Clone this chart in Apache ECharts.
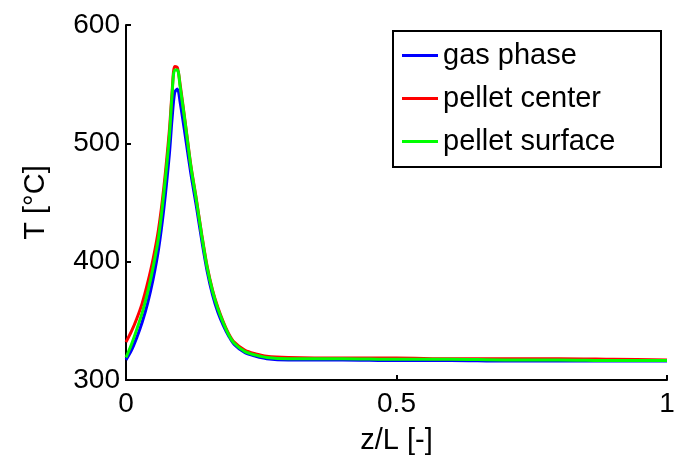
<!DOCTYPE html>
<html>
<head>
<meta charset="utf-8">
<script src="https://cdn.jsdelivr.net/npm/echarts@6/dist/echarts.min.js"></script>
<style>
  html, body { margin: 0; padding: 0; background: #fff; }
  #chart { width: 679px; height: 461px; }
</style>
</head>
<body>
<div id="chart"></div>
<script>
// axial position z/L
const zPos = [0, 0.01, 0.02, 0.03, 0.04, 0.05, 0.06, 0.07, 0.08, 0.085, 0.09, 0.095, 0.1,
  0.11, 0.12, 0.13, 0.14, 0.15, 0.16, 0.17, 0.18, 0.19, 0.2, 0.22, 0.24, 0.26, 0.3,
  0.4, 0.5, 0.6, 0.7, 0.8, 0.9, 1.0]
// temperatures in °C
const gasPhase = [317, 325, 336, 349, 365, 385, 410, 445, 490, 520, 543, 546, 535,
  505, 474, 447, 418, 392, 372, 357, 346, 337, 330, 323, 320, 318, 317,
  317, 316.5, 316.5, 316, 316, 316, 316]
const pelletCenter = [332, 341, 352, 365, 382, 402, 427, 463, 510, 542, 565, 564, 550,
  516, 481, 453, 423, 396, 376, 361, 349, 339, 332, 325, 322, 320, 319,
  318.5, 318.5, 318, 318, 318, 317.5, 317]
const pelletSurface = [319, 330, 343, 357, 374, 395, 420, 458, 505, 540, 562, 562, 548,
  515, 480, 452, 422, 395, 375, 360, 348, 338, 331, 324, 321, 319, 318,
  318, 317.5, 317.5, 317, 317, 316.5, 316.5]
const seriesNames = ['gas phase', 'pellet center', 'pellet surface']
const seriesColors = ['#0000ff', '#ff0000', '#00ff00']

const font = 'Liberation Sans, Arial, sans-serif'
const chart = echarts.init(document.getElementById('chart'))

const mkSeries = (name, vals, color) => ({
  name: name,
  type: 'line',
  data: zPos.map((z, i) => [z, vals[i]]),
  smooth: 0.3,
  symbol: 'none',
  lineStyle: { color: color, width: 3 },
  itemStyle: { color: color }
})

chart.setOption({
  animation: false,
  grid: { left: 126, right: 12, top: 25, bottom: 81 },
  legend: {
    orient: 'vertical',
    left: 393,
    top: 31,
    data: seriesNames,
    icon: 'rect',
    itemWidth: 36,
    itemHeight: 3,
    itemGap: 12,
    padding: [9, 6, 10, 9],
    borderColor: '#000',
    borderWidth: 2,
    backgroundColor: '#fff',
    textStyle: { fontFamily: font, fontSize: 29, color: '#000', lineHeight: 31, width: 212 }
  },
  xAxis: {
    type: 'value',
    min: 0,
    max: 1,
    interval: 0.5,
    name: 'z/L [-]',
    nameLocation: 'middle',
    nameGap: 46,
    nameTextStyle: { fontFamily: font, fontSize: 29, color: '#000' },
    axisLine: { lineStyle: { color: '#000', width: 2 } },
    axisTick: { inside: true, length: 5, lineStyle: { color: '#000', width: 2 } },
    axisLabel: { fontFamily: font, fontSize: 28, color: '#000', margin: 10 },
    splitLine: { show: false }
  },
  yAxis: {
    type: 'value',
    min: 300,
    max: 600,
    interval: 100,
    name: 'T [°C]',
    nameLocation: 'middle',
    nameGap: 76,
    nameTextStyle: { fontFamily: font, fontSize: 29, color: '#000' },
    axisLine: { show: true, lineStyle: { color: '#000', width: 2 } },
    axisTick: { show: true, inside: true, length: 5, lineStyle: { color: '#000', width: 2 } },
    axisLabel: { fontFamily: font, fontSize: 28, color: '#000', margin: 6 },
    splitLine: { show: false }
  },
  series: [
    mkSeries(seriesNames[0], gasPhase, seriesColors[0]),
    mkSeries(seriesNames[1], pelletCenter, seriesColors[1]),
    mkSeries(seriesNames[2], pelletSurface, seriesColors[2])
  ]
})
</script>
</body>
</html>
